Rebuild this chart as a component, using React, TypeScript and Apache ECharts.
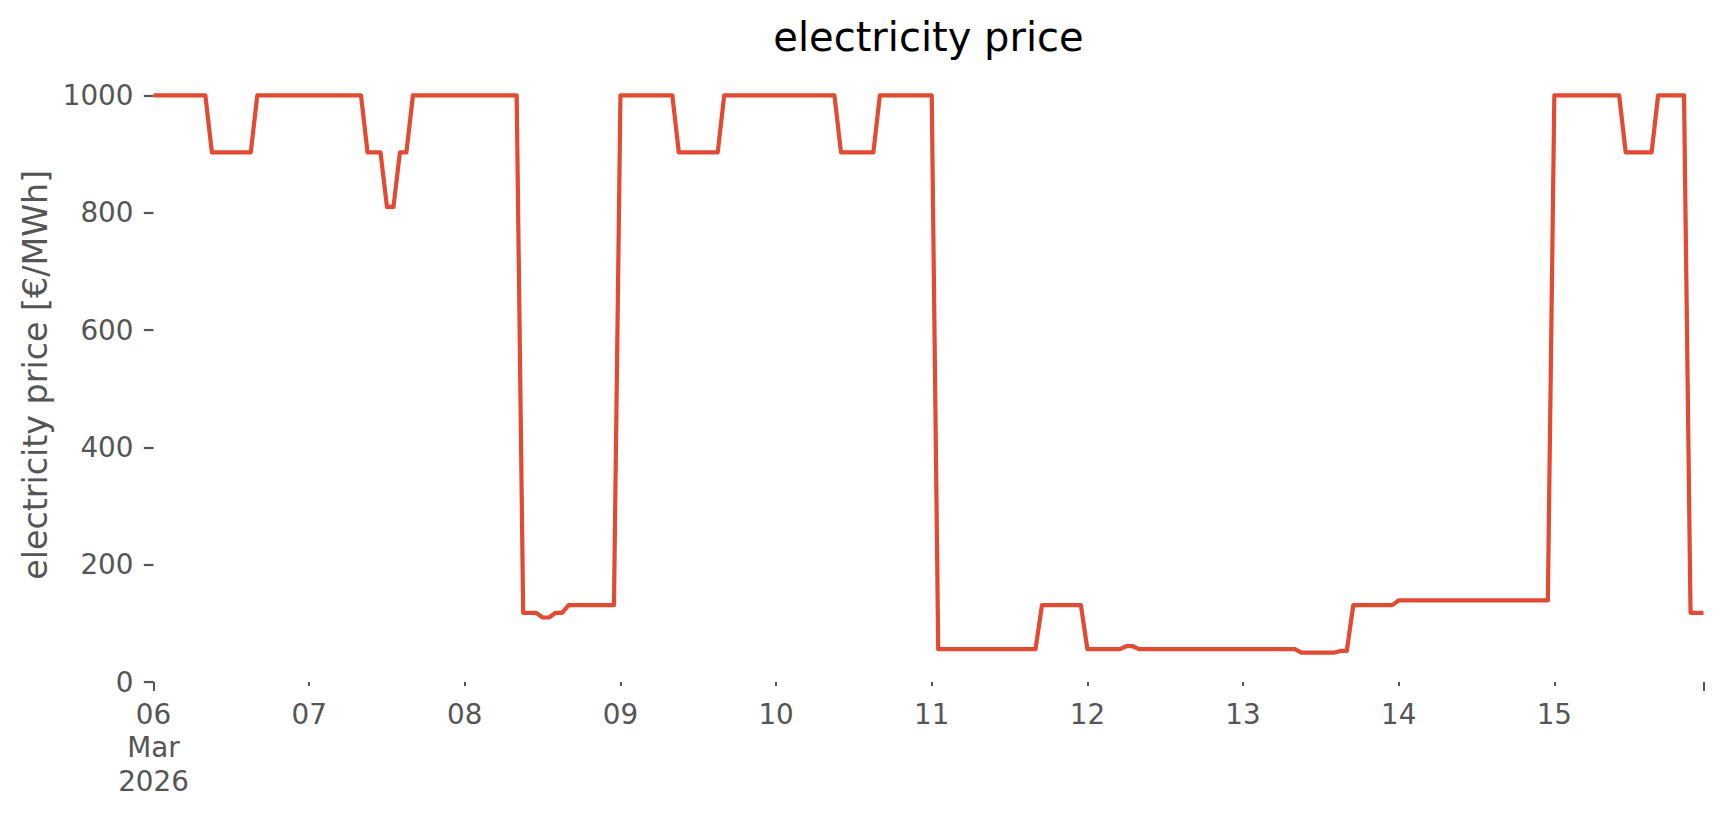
import React, { useEffect, useRef } from "react";
import * as echarts from "echarts";

// x tick labels (one per day)
const dayLabels = ["06\nMar\n2026", "07", "08", "09", "10", "11", "12", "13", "14", "15"];
const dayNumbers = ["06", "07", "08", "09", "10", "11", "12", "13", "14", "15"];
// y tick values
const yTicks = [0, 200, 400, 600, 800, 1000];

// hourly electricity price [€/MWh], one row per day (00:00 .. 23:00)
const day06 = [1000, 1000, 1000, 1000, 1000, 1000, 1000, 1000, 1000, 903, 903, 903, 903, 903, 903, 903, 1000, 1000, 1000, 1000, 1000, 1000, 1000, 1000];
const day07 = [1000, 1000, 1000, 1000, 1000, 1000, 1000, 1000, 1000, 903, 903, 903, 810, 810, 903, 903, 1000, 1000, 1000, 1000, 1000, 1000, 1000, 1000];
const day08 = [1000, 1000, 1000, 1000, 1000, 1000, 1000, 1000, 1000, 118, 118, 118, 110, 110, 118, 118, 131, 131, 131, 131, 131, 131, 131, 131];
const day09 = [1000, 1000, 1000, 1000, 1000, 1000, 1000, 1000, 1000, 903, 903, 903, 903, 903, 903, 903, 1000, 1000, 1000, 1000, 1000, 1000, 1000, 1000];
const day10 = [1000, 1000, 1000, 1000, 1000, 1000, 1000, 1000, 1000, 1000, 903, 903, 903, 903, 903, 903, 1000, 1000, 1000, 1000, 1000, 1000, 1000, 1000];
const day11 = [1000, 56, 56, 56, 56, 56, 56, 56, 56, 56, 56, 56, 56, 56, 56, 56, 56, 131, 131, 131, 131, 131, 131, 131];
const day12 = [56, 56, 56, 56, 56, 56, 61, 61, 56, 56, 56, 56, 56, 56, 56, 56, 56, 56, 56, 56, 56, 56, 56, 56];
const day13 = [56, 56, 56, 56, 56, 56, 56, 56, 56, 50, 50, 50, 50, 50, 50, 53, 53, 131, 131, 131, 131, 131, 131, 131];
const day14 = [139, 139, 139, 139, 139, 139, 139, 139, 139, 139, 139, 139, 139, 139, 139, 139, 139, 139, 139, 139, 139, 139, 139, 139];
const day15 = [1000, 1000, 1000, 1000, 1000, 1000, 1000, 1000, 1000, 1000, 1000, 903, 903, 903, 903, 903, 1000, 1000, 1000, 1000, 1000, 118, 118, 118];

const prices = [...day06, ...day07, ...day08, ...day09, ...day10, ...day11, ...day12, ...day13, ...day14, ...day15];

const hours: string[] = [];
dayNumbers.forEach((d) => {
  for (let h = 0; h < 24; h++) {
    hours.push(`2026-03-${d} ${String(h).padStart(2, "0")}:00`);
  }
});

const FONT = "DejaVu Sans";
const GREY = "#555555";

export default function App() {
  const ref = useRef<HTMLDivElement>(null);

  useEffect(() => {
    if (!ref.current) return;
    const chart = echarts.init(ref.current, null, { renderer: "svg" });
    const last = hours.length - 1;
    chart.setOption({
      animation: false,
      backgroundColor: "#ffffff",
      textStyle: { fontFamily: FONT },
      title: {
        text: "electricity price",
        left: 928.5,
        textAlign: "center",
        top: 17,
        padding: 0,
        textStyle: { fontFamily: FONT, fontSize: 40, fontWeight: "normal", color: "#000000" },
      },
      grid: { left: 153.5, right: 20.5, top: 67.6, bottom: 133, containLabel: false },
      xAxis: [
        {
          type: "category",
          data: hours,
          boundaryGap: false,
          position: "bottom",
          axisLine: { show: false },
          splitLine: { show: false },
          axisTick: {
            show: true,
            interval: (i: number) => i % 24 === 0 && i > 0,
            length: 4,
            lineStyle: { color: GREY, width: 2 },
          },
          axisLabel: {
            show: true,
            interval: (i: number) => i % 24 === 0,
            formatter: (_v: string, i: number) => dayLabels[Math.floor(i / 24)],
            fontFamily: FONT,
            fontSize: 27.8,
            lineHeight: 33.4,
            color: GREY,
            margin: 15.5,
          },
        },
        {
          type: "category",
          data: hours,
          boundaryGap: false,
          position: "bottom",
          axisLine: { show: false },
          splitLine: { show: false },
          axisTick: {
            show: true,
            interval: (i: number) => i === 0 || i === last,
            length: 9,
            lineStyle: { color: GREY, width: 2 },
          },
          axisLabel: { show: false },
        },
      ],
      yAxis: {
        type: "value",
        min: 0,
        max: 1047.5,
        name: "electricity price [€/MWh]",
        nameLocation: "middle",
        nameGap: 92,
        nameTextStyle: { fontFamily: FONT, fontSize: 33.3, color: GREY },
        axisLine: { show: false },
        splitLine: { show: false },
        axisTick: {
          show: true,
          length: 9.7,
          customValues: yTicks,
          lineStyle: { color: GREY, width: 2.2 },
        },
        axisLabel: {
          customValues: yTicks,
          formatter: (v: number) => String(v),
          fontFamily: FONT,
          fontSize: 27.8,
          color: GREY,
          margin: 20,
        },
      },
      series: [
        {
          type: "line",
          data: prices,
          xAxisIndex: 0,
          symbol: "none",
          lineStyle: { color: "#E24A33", width: 4.2, join: "round", cap: "butt" },
          itemStyle: { color: "#E24A33" },
        },
      ],
    });
    return () => chart.dispose();
  }, []);

  return (
    <div
      ref={ref}
      style={{ position: "fixed", left: 0, top: 0, width: 1724, height: 815, background: "#ffffff" }}
    />
  );
}
